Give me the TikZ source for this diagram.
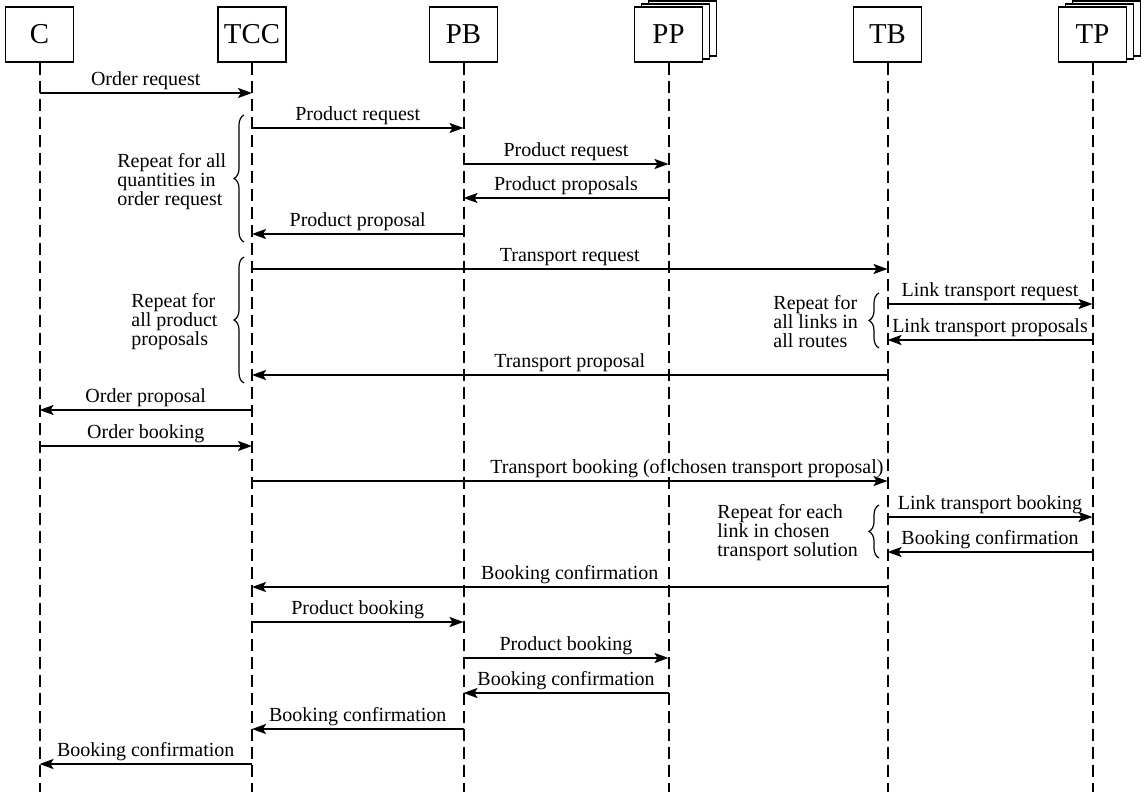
\documentclass[tikz,border=0pt]{standalone}
\usepackage{fontspec}
\setmainfont{Liberation Serif}
\usetikzlibrary{arrows.meta,decorations.pathreplacing}
\newcommand\seqmsg[4]{\draw[msgline] (#1 |- 0,#3) -- node[lbl,midway,yshift=4pt]{#4} (#2 |- 0,#3);}
\begin{document}
\begin{tikzpicture}[x=0.5pt,y=-0.5pt,
 actor/.style={draw,line width=0.6pt,fill=white,minimum width=34pt,minimum height=27.5pt,inner sep=0pt,font=\fontsize{14.4}{16}\selectfont},
 lifeline/.style={line width=1pt,dash pattern=on 6pt off 3pt},
 msgline/.style={line width=1pt,-{Stealth[length=7pt,width=5pt,inset=1.5pt]}},
 lbl/.style={font=\fontsize{10}{12}\selectfont,anchor=base,inner sep=0pt},
 note/.style={font=\fontsize{10}{9.5}\selectfont,align=left,anchor=west,inner sep=0pt},
 brc/.style={line width=0.6pt,decorate,decoration={brace,amplitude=5pt}}]
\useasboundingbox (0,0) rectangle (1144,792);
% actors
\node[actor] (C) at (39.5,34.5) {C};
\node[actor] (TCC) at (252,34.5) {TCC};
\node[actor] (PB) at (463.5,34.5) {PB};
\node[actor] (PPb2) at (682.5,28.5) {};
\node[actor] (PPb1) at (675.5,31.5) {};
\node[actor] (PP) at (668.5,34.5) {PP};
\node[actor] (TB) at (887.5,34.5) {TB};
\node[actor] (TPb2) at (1106.5,28.5) {};
\node[actor] (TPb1) at (1099.5,31.5) {};
\node[actor] (TP) at (1092.5,34.5) {TP};
% lifelines
\foreach \a in {C,TCC,PB,PP,TB,TP}{
  \draw[lifeline] (\a.south) -- (\a |- 0,792);
}
% messages
\seqmsg{C}{TCC}{93}{Order request}
\seqmsg{TCC}{PB}{128}{Product request}
\seqmsg{PB}{PP}{164}{Product request}
\seqmsg{PP}{PB}{198}{Product proposals}
\seqmsg{PB}{TCC}{234}{Product proposal}
\seqmsg{TCC}{TB}{269}{Transport request}
\seqmsg{TB}{TP}{304}{Link transport request}
\seqmsg{TP}{TB}{340}{Link transport proposals}
\seqmsg{TB}{TCC}{375}{Transport proposal}
\seqmsg{TCC}{C}{410}{Order proposal}
\seqmsg{C}{TCC}{446}{Order booking}
\draw[msgline] (TCC |- 0,481) -- (TB |- 0,481) node[lbl,anchor=base east,xshift=-1.5pt,yshift=4pt]{Transport booking (of chosen transport proposal)};
\seqmsg{TB}{TP}{517}{Link transport booking}
\seqmsg{TP}{TB}{552}{Booking confirmation}
\seqmsg{TB}{TCC}{587}{Booking confirmation}
\seqmsg{TCC}{PB}{622}{Product booking}
\seqmsg{PB}{PP}{658}{Product booking}
\seqmsg{PP}{PB}{693}{Booking confirmation}
\seqmsg{PB}{TCC}{729}{Booking confirmation}
\seqmsg{TCC}{C}{764}{Booking confirmation}
% braces and notes
\draw[brc] (244,242) -- (244,115);
\node[note] (n1) at (117,182) {Repeat for all\\quantities in\\order request};
\draw[brc] (244,383) -- (244,257);
\node[note] (n2) at (131,322) {Repeat for\\all product\\proposals};
\draw[brc] (879,348) -- (879,293);
\node[note] (n3) at (773,322) {Repeat for\\all links in\\all routes};
\draw[brc] (879,558) -- (879,505);
\node[note] (n4) at (717,533) {Repeat for each\\link in chosen\\transport solution};
\end{tikzpicture}
\end{document}
